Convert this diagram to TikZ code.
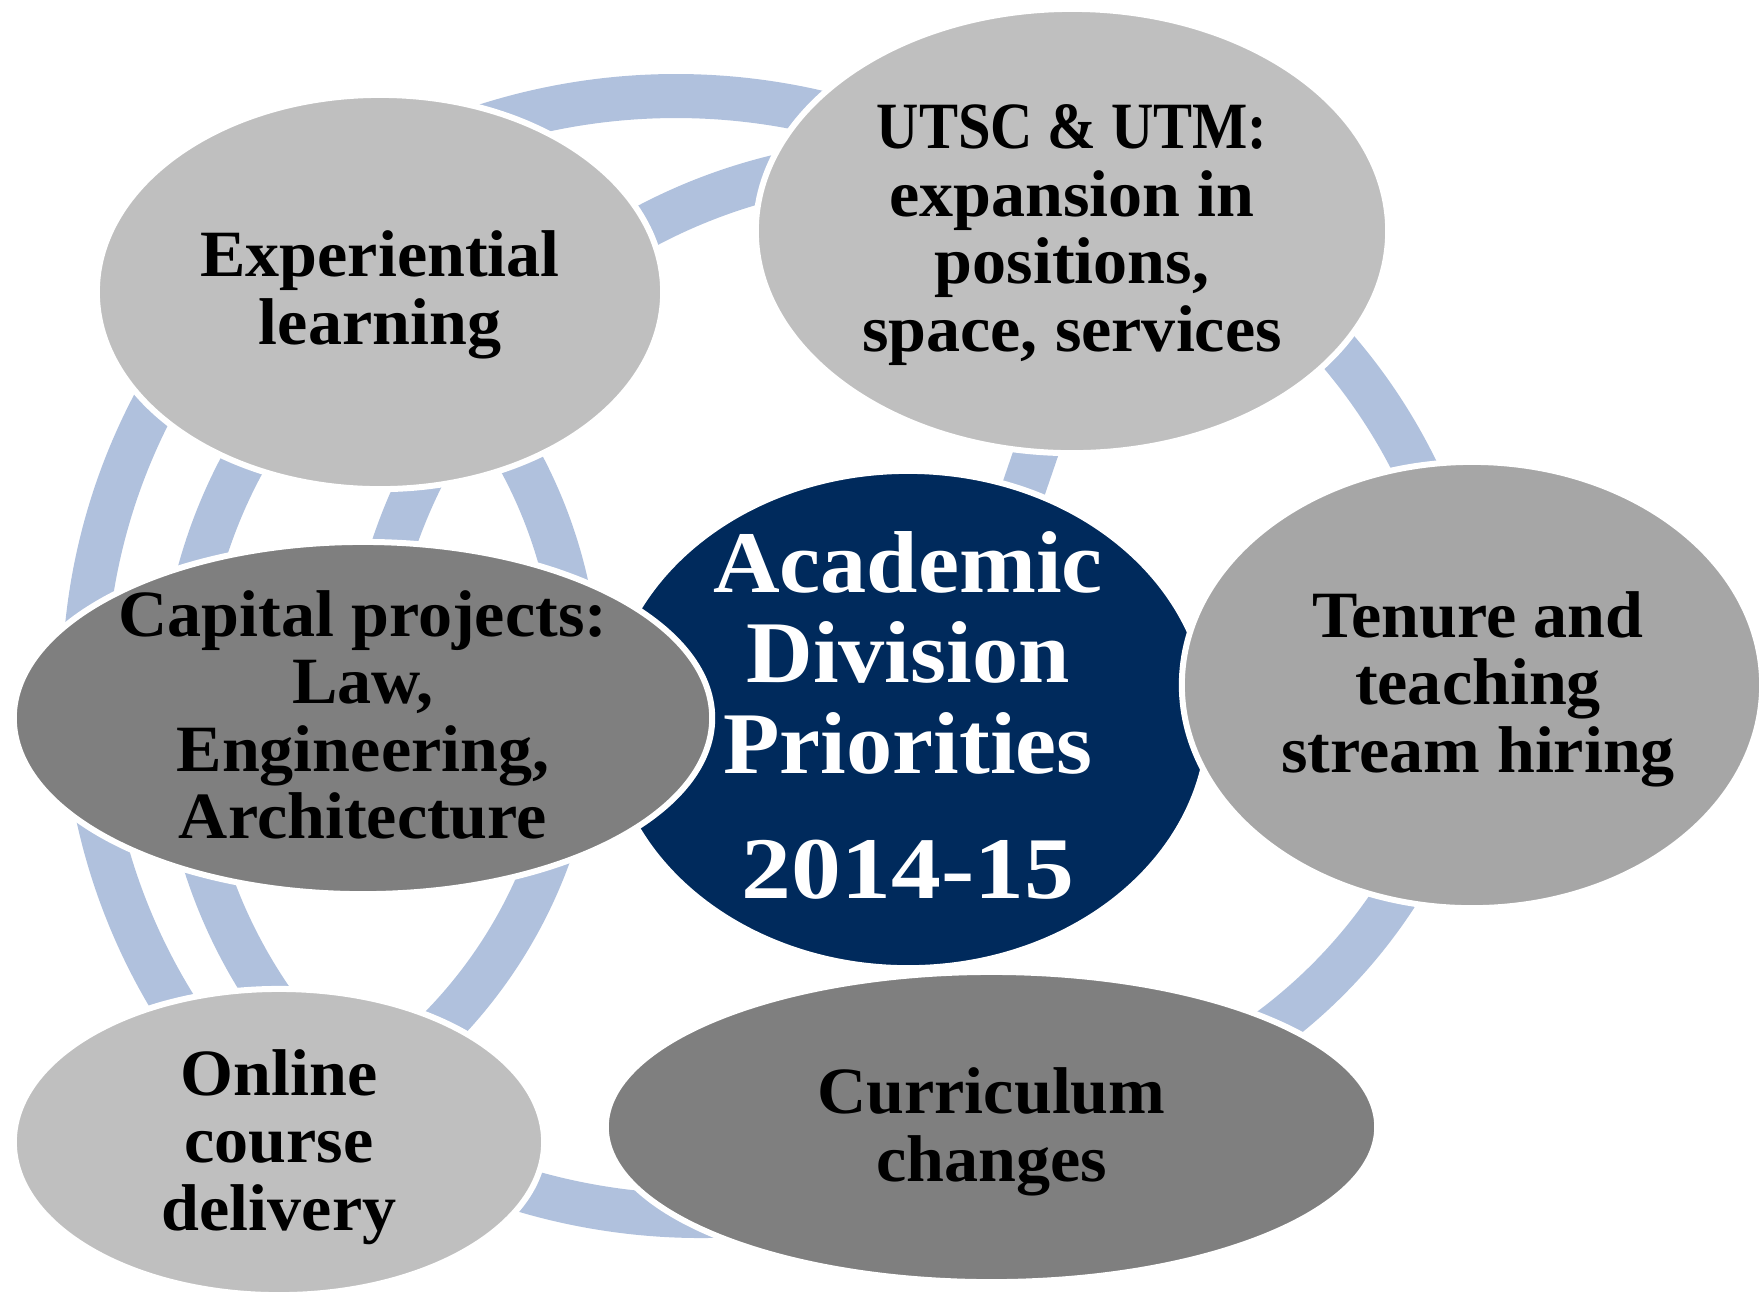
\documentclass[tikz,border=0pt]{standalone}
\usepackage{fontspec}
\setmainfont{Liberation Serif}[FakeStretch=1.03]
\newfontfamily\bigfont{Liberation Serif}[FakeStretch=1.05]
\usetikzlibrary{shapes.geometric}
\definecolor{bandblue}{HTML}{B0C1DD}
\definecolor{lgray}{HTML}{BFBFBF}
\definecolor{mgray}{HTML}{A6A6A6}
\definecolor{dgray}{HTML}{7F7F7F}
\definecolor{navy}{HTML}{002A5C}
\begin{document}
\begin{tikzpicture}[x=0.01cm, y=0.01cm,
  bandline/.style={draw=bandblue, line width=0.44cm},
  ell/.style={ellipse, draw=white, line width=0.06cm, inner sep=0pt},
  txt/.style={align=center, inner sep=0pt, text=black,
    font=\bfseries\fontsize{18.8pt}{19.2pt}\selectfont},
  bigtxt/.style={align=center, inner sep=0pt, text=white,
    font=\bigfont\bfseries\fontsize{25pt}{25.6pt}\selectfont},
]
\useasboundingbox (0,0) rectangle (1764,-1296);

% ---- connecting bands (drawn under the ellipses)
\path (676,-723) ++(112:627) coordinate (t1s);
\draw[bandline] (t1s) arc[start angle=112, end angle=70, radius=627];
\path (908,-719) ++(125:558) coordinate (t2s);
\draw[bandline] (t2s) arc[start angle=125, end angle=97, radius=558];
\path (908,-719) ++(48:566) coordinate (r1s);
\draw[bandline] (r1s) arc[start angle=48, end angle=20, radius=566];
\path (908,-719) ++(150:543) coordinate (l3s);
\draw[bandline] (l3s) arc[start angle=150, end angle=167, radius=543];
\path (95,-690) ++(33:483) coordinate (l4s);
\draw[bandline] (l4s) arc[start angle=33, end angle=-50, radius=483];
\path (690,-687) ++(145:606) coordinate (l1s);
\draw[bandline] (l1s) arc[start angle=145, end angle=218, radius=606];
\path (696,-708) ++(145:515) coordinate (l2s);
\draw[bandline] (l2s) arc[start angle=145, end angle=220, radius=515];
\path (701,-592) ++(250:624) coordinate (bs);
\draw[bandline] (bs) arc[start angle=250, end angle=280, radius=624];
\path (960,-612) ++(-28:520) coordinate (r2s);
\draw[bandline] (r2s) arc[start angle=-28, end angle=-58, radius=520];
\coordinate (cs) at (1042,-435);
\coordinate (ce) at (1017,-508);
\draw[bandline] (cs) -- (ce);

% ---- ellipses
\node[ell, fill=navy, minimum width=6.02cm, minimum height=4.97cm] (acad) at (908,-719.5) {};
\node[ell, fill=lgray, minimum width=5.66cm, minimum height=3.94cm] (exp) at (380,-292) {};
\node[ell, fill=lgray, minimum width=6.32cm, minimum height=4.44cm] (utsc) at (1072,-231) {};
\node[ell, fill=mgray, minimum width=5.80cm, minimum height=4.46cm] (ten) at (1472,-685) {};
\node[ell, fill=dgray, minimum width=6.98cm, minimum height=3.52cm] (cap) at (363,-718) {};
\node[ell, fill=lgray, minimum width=5.30cm, minimum height=3.06cm] (onl) at (279,-1142) {};
\node[ell, fill=dgray, minimum width=7.71cm, minimum height=3.10cm] (cur) at (991.5,-1127) {};

% ---- texts
\node[txt] (expT) at ([yshift=-0.03cm]exp.center) {Experiential\\learning};
\node[txt] (utscT) at ([yshift=-0.04cm]utsc.center) {\scalebox{0.86}[1]{UTSC \& UTM:}\\expansion in\\positions,\\space, services};
\node[bigtxt] (acadT) at ([yshift=0.04cm]acad.center) {Academic\\Division\\Priorities\\[10pt]\scalebox{1.08}[1]{2014-15}};
\node[txt] (tenT) at ([xshift=0.06cm,yshift=-0.04cm]ten.center) {Tenure and\\teaching\\stream hiring};
\node[txt] (capT) at ([yshift=0.03cm]cap.center) {Capital projects:\\Law,\\Engineering,\\Architecture};
\node[txt] (onlT) at ([yshift=-0.05cm]onl.center) {Online\\course\\delivery};
\node[txt] (curT) at ([yshift=-0.05cm]cur.center) {Curriculum\\changes};
\end{tikzpicture}
\end{document}
